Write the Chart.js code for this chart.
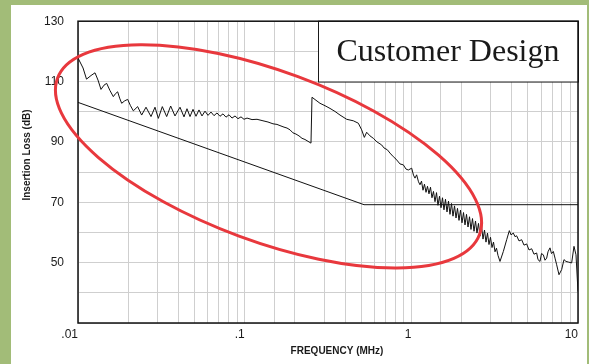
<!DOCTYPE html>
<html>
<head>
<meta charset="utf-8">
<script src="https://cdn.jsdelivr.net/npm/chart.js@4.4.1/dist/chart.umd.min.js"></script>
<style>
  html, body { margin: 0; padding: 0; }
  body { width: 589px; height: 364px; background: #a2bc78; position: relative; overflow: hidden; }
  #paper { position: absolute; left: 11px; top: 5px; width: 576px; height: 359px; background: #fff; }
  #wrap { position: absolute; left: 0; top: 0; width: 589px; height: 364px; }
</style>
</head>
<body>
<div id="paper"></div>
<div id="wrap"><canvas id="chart"></canvas></div>
<script>
// Courbe mesurée : fréquence (MHz) et perte d'insertion (dB)
const freqMHz = [
    0.01, 0.01072, 0.01125, 0.01197, 0.01265, 0.01318, 0.01374, 0.01432, 0.01486, 0.01556,
    0.01629, 0.01679, 0.0173, 0.01778, 0.01828, 0.01905, 0.01986, 0.02065, 0.02148, 0.0228,
    0.0241, 0.02559, 0.02742, 0.02897, 0.03034, 0.03206, 0.03404, 0.03597, 0.03819, 0.04093,
    0.04325, 0.04508, 0.04699, 0.04898, 0.05105, 0.05321, 0.05546, 0.05781, 0.06026, 0.06281,
    0.06546, 0.06823, 0.07112, 0.07413, 0.07727, 0.08054, 0.08395, 0.0875, 0.0912, 0.09506,
    0.09908, 0.1033, 0.1107, 0.1186, 0.1288, 0.138, 0.1479, 0.1563, 0.1629, 0.1722,
    0.1795, 0.1871, 0.195, 0.2032, 0.2118, 0.2208, 0.2301, 0.2399, 0.25, 0.2535,
    0.2679, 0.2831, 0.3034, 0.3251, 0.3483, 0.3733, 0.4093, 0.4487, 0.4808, 0.5035,
    0.5224, 0.5395, 0.5649, 0.5916, 0.6223, 0.6637, 0.6855, 0.7178, 0.7447, 0.7798,
    0.8091, 0.8551, 0.8954, 0.929, 0.9594, 1.005, 1.03, 1.052, 1.076, 1.104,
    1.127, 1.151, 1.175, 1.199, 1.225, 1.25, 1.276, 1.303, 1.33, 1.358,
    1.387, 1.416, 1.445, 1.476, 1.507, 1.538, 1.57, 1.603, 1.637, 1.671,
    1.706, 1.742, 1.778, 1.816, 1.854, 1.892, 1.932, 1.972, 2.014, 2.056,
    2.099, 2.143, 2.188, 2.234, 2.28, 2.328, 2.377, 2.427, 2.477, 2.529,
    2.582, 2.636, 2.692, 2.748, 2.805, 2.864, 2.924, 2.985, 3.048, 3.112,
    3.177, 3.243, 3.311, 3.404, 3.565, 3.733, 3.873, 3.963, 4.093, 4.188,
    4.285, 4.426, 4.592, 4.742, 4.92, 5.082, 5.272, 5.445, 5.649, 5.754,
    5.916, 6.039, 6.194, 6.339, 6.486, 6.607, 6.792, 6.934, 7.112, 7.278,
    7.447, 7.691, 7.98, 8.241, 8.472, 8.75, 9.162, 9.462, 9.727, 10
]
const lossDb = [
    117.8, 114.5, 110.8, 112.0, 112.9, 110.5, 107.4, 108.8, 109.4, 107.0,
    105.0, 106.0, 106.6, 104.5, 102.8, 103.6, 104.1, 102.0, 100.3, 101.7,
    98.9, 101.5, 98.4, 101.5, 97.8, 101.7, 98.4, 101.9, 98.6, 101.5,
    98.3, 101.0, 98.4, 100.8, 98.5, 100.6, 98.6, 100.2, 98.8, 99.9,
    98.7, 99.6, 98.5, 99.3, 98.2, 99.0, 97.9, 98.6, 97.7, 98.3,
    97.5, 97.9, 97.4, 97.5, 97.0, 96.6, 96.0, 95.8, 95.4, 94.9,
    94.6, 94.0, 93.0, 92.6, 92.0, 91.2, 90.8, 90.2, 89.6, 104.8,
    103.8, 102.8, 102.0, 101.1, 100.1, 98.9, 97.5, 97.0, 96.2, 94.0,
    91.5, 93.2, 92.0, 91.2, 90.0, 89.0, 88.0, 87.4, 86.3, 85.1,
    84.3, 82.7, 82.4, 81.0, 80.7, 81.3, 79.0, 78.0, 79.1, 76.8,
    75.8, 77.0, 74.0, 76.0, 73.3, 75.3, 72.8, 75.0, 71.5, 73.6,
    70.2, 73.2, 69.0, 72.0, 68.2, 71.5, 67.5, 71.0, 66.8, 70.4,
    66.0, 69.6, 65.4, 68.8, 64.8, 68.0, 64.0, 67.4, 63.2, 66.6,
    62.5, 66.0, 61.8, 65.2, 61.0, 64.6, 60.4, 63.8, 59.8, 63.0,
    58.8, 62.2, 57.8, 60.8, 56.8, 59.8, 56.0, 58.4, 55.0, 56.8,
    53.6, 54.8, 52.4, 50.4, 53.7, 57.6, 60.6, 59.2, 59.8, 58.6,
    58.9, 57.2, 57.6, 55.8, 56.2, 54.2, 54.6, 52.8, 53.2, 51.0,
    50.4, 53.0, 52.6, 50.8, 51.5, 53.6, 54.9, 53.0, 53.7, 51.5,
    49.3, 46.0, 47.7, 51.0, 50.4, 50.2, 49.9, 55.4, 52.6, 40.4
]
// Gabarit : pente puis palier
const limitFreq = [0.01, 0.52, 10]
const limitDb = [103.1, 69.2, 69.2]

// Graduations affichées
const xTickValues = [0.01, 0.1, 1, 10]
const xTickLabels = ['.01', '.1', '1', '10']
const yTickLabels = [130, 110, 90, 70, 50]

// Cartouche en haut à droite + ellipse rouge
const boxText = 'Customer Design'
const boxFrom = 0.275
const boxDb = [110, 130]
const ellipseCenter = [0.139, 85.2]

let curve = []
for(let i = 0; i < freqMHz.length; i++){
    curve.push({x: freqMHz[i], y: lossDb[i]})
}
let limit = []
for(let i = 0; i < limitFreq.length; i++){
    limit.push({x: limitFreq[i], y: limitDb[i]})
}

const tickFont = {family: '"Liberation Sans", Arial, sans-serif', size: 12}

// Dessins hors datasets : cartouche, cadre, ellipse, titres d'axes
const decor = {
    id: 'decor',
    beforeDatasetsDraw(chart){
        const {ctx, chartArea, scales} = chart
        const left = scales.x.getPixelForValue(boxFrom)
        const top = scales.y.getPixelForValue(boxDb[1])
        const bottom = scales.y.getPixelForValue(boxDb[0])
        ctx.save()
        ctx.fillStyle = '#fff'
        ctx.fillRect(left, top, chartArea.right - left, bottom - top)
        ctx.strokeStyle = '#1a1a1a'
        ctx.lineWidth = 1
        ctx.strokeRect(Math.round(left) + 0.5, top, chartArea.right - Math.round(left), bottom - top + 0.5)
        ctx.fillStyle = '#1a1a1a'
        ctx.font = '32px "Liberation Serif", "Times New Roman", serif'
        ctx.textAlign = 'center'
        ctx.textBaseline = 'middle'
        ctx.fillText(boxText, (left + chartArea.right) / 2, (top + bottom) / 2 + 1)
        ctx.restore()
    },
    afterDraw(chart){
        const {ctx, chartArea, scales} = chart
        ctx.save()
        // cadre noir
        ctx.strokeStyle = '#111'
        ctx.lineWidth = 1.5
        ctx.strokeRect(chartArea.left, chartArea.top, chartArea.right - chartArea.left, chartArea.bottom - chartArea.top)

        // ellipse rouge
        const cx = scales.x.getPixelForValue(ellipseCenter[0])
        const cy = scales.y.getPixelForValue(ellipseCenter[1])
        ctx.strokeStyle = '#e8383d'
        ctx.lineWidth = 3
        ctx.beginPath()
        ctx.ellipse(cx, cy, 225, 85, 20.3 * Math.PI / 180, 0, Math.PI * 2)
        ctx.stroke()

        // titres
        ctx.fillStyle = '#1a1a1a'
        ctx.font = 'bold 10px "Liberation Sans", Arial, sans-serif'
        ctx.textAlign = 'center'
        ctx.textBaseline = 'middle'
        ctx.fillText('FREQUENCY (MHz)', 337, 351)
        ctx.translate(27, 155)
        ctx.rotate(-Math.PI / 2)
        ctx.fillText('Insertion Loss (dB)', 0, 0)
        ctx.restore()
    }
}

const config = {
    type: 'line',
    data: {
        datasets: [
            {
                label: 'Customer Design',
                data: curve,
                borderColor: '#111',
                borderWidth: 1,
                pointRadius: 0,
                tension: 0
            },
            {
                label: 'Limit',
                data: limit,
                borderColor: '#111',
                borderWidth: 1,
                pointRadius: 0,
                tension: 0
            }
        ]
    },
    options: {
        responsive: true,
        maintainAspectRatio: false,
        animation: false,
        layout: {padding: {left: 12, top: 21, right: 11, bottom: 0}},
        plugins: {
            legend: {display: false},
            tooltip: {enabled: false}
        },
        scales: {
            x: {
                type: 'logarithmic',
                min: 0.01,
                max: 10,
                afterFit: (scale) => { scale.height = 41 },
                border: {display: false},
                grid: {color: '#cfcfcf', lineWidth: 1, drawTicks: false},
                ticks: {
                    autoSkip: false,
                    maxRotation: 0,
                    align: 'end',
                    padding: 4,
                    color: '#1a1a1a',
                    font: tickFont,
                    callback: (v) => {
                        for(let i = 0; i < xTickValues.length; i++){
                            if(Math.abs(v - xTickValues[i]) < xTickValues[i] * 1e-6) return xTickLabels[i]
                        }
                        return ''
                    }
                }
            },
            y: {
                min: 30,
                max: 130,
                afterFit: (scale) => { scale.width = 66 },
                border: {display: false},
                grid: {color: '#cfcfcf', lineWidth: 1, drawTicks: false},
                ticks: {
                    stepSize: 10,
                    padding: 14,
                    color: '#1a1a1a',
                    font: tickFont,
                    callback: (v) => yTickLabels.includes(v) ? String(v) : ''
                }
            }
        }
    },
    plugins: [decor]
};

const chartOne = new Chart(document.getElementById('chart'), config);
</script>
</body>
</html>
